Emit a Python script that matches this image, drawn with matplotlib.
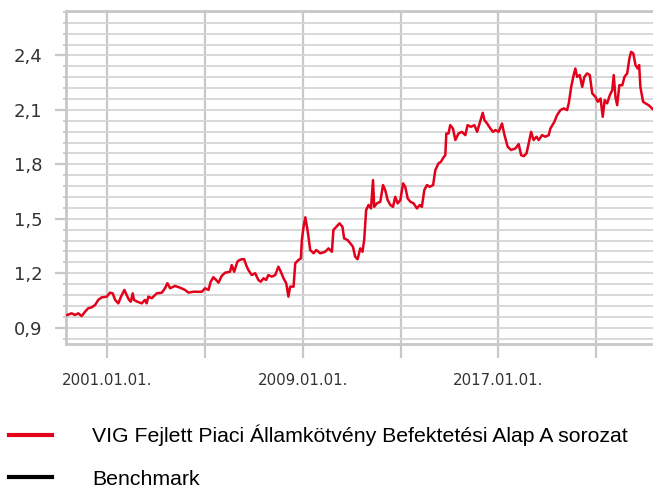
import matplotlib
matplotlib.use("Agg")
import matplotlib.pyplot as plt
from matplotlib.lines import Line2D
import numpy as np

# decimal years and fund values
years = [
    1999.36, 1999.54, 1999.68, 1999.81, 1999.95, 2000.09, 2000.22, 2000.36, 2000.50, 2000.63,
    2000.77, 2000.98, 2001.11, 2001.22, 2001.32, 2001.45, 2001.56, 2001.70, 2001.79, 2001.89,
    2001.96, 2002.04, 2002.09, 2002.23, 2002.41, 2002.54, 2002.61, 2002.68, 2002.82, 2003.02,
    2003.23, 2003.36, 2003.46, 2003.57, 2003.77, 2003.98, 2004.18, 2004.32, 2004.52, 2004.73,
    2004.87, 2005.00, 2005.14, 2005.23, 2005.34, 2005.45, 2005.55, 2005.68, 2005.82, 2006.02,
    2006.09, 2006.19, 2006.32, 2006.41, 2006.50, 2006.60, 2006.68, 2006.77, 2006.91, 2007.05,
    2007.18, 2007.28, 2007.39, 2007.50, 2007.59, 2007.73, 2007.87, 2008.00, 2008.10, 2008.21,
    2008.32, 2008.41, 2008.48, 2008.62, 2008.69, 2008.82, 2008.92, 2008.96, 2009.03, 2009.10,
    2009.17, 2009.23, 2009.30, 2009.44, 2009.55, 2009.71, 2009.91, 2010.05, 2010.19, 2010.25,
    2010.37, 2010.50, 2010.62, 2010.69, 2010.83, 2010.94, 2011.05, 2011.14, 2011.24, 2011.35,
    2011.44, 2011.51, 2011.59, 2011.69, 2011.79, 2011.87, 2011.92, 2012.03, 2012.17, 2012.28,
    2012.37, 2012.47, 2012.58, 2012.69, 2012.78, 2012.88, 2012.99, 2013.10, 2013.19, 2013.29,
    2013.40, 2013.53, 2013.67, 2013.78, 2013.87, 2013.97, 2014.08, 2014.19, 2014.33, 2014.42,
    2014.55, 2014.65, 2014.73, 2014.83, 2014.87, 2014.96, 2015.03, 2015.14, 2015.24, 2015.37,
    2015.51, 2015.65, 2015.74, 2015.88, 2016.02, 2016.13, 2016.23, 2016.36, 2016.43, 2016.54,
    2016.67, 2016.78, 2016.88, 2017.01, 2017.15, 2017.25, 2017.38, 2017.52, 2017.70, 2017.83,
    2017.93, 2018.04, 2018.15, 2018.24, 2018.34, 2018.44, 2018.56, 2018.65, 2018.79, 2018.92,
    2019.06, 2019.13, 2019.29, 2019.40, 2019.54, 2019.67, 2019.81, 2019.88, 2019.98, 2020.08,
    2020.15, 2020.22, 2020.33, 2020.43, 2020.52, 2020.63, 2020.74, 2020.84, 2020.97, 2021.07,
    2021.18, 2021.27, 2021.35, 2021.45, 2021.56, 2021.66, 2021.72, 2021.79, 2021.86, 2021.95,
    2022.07, 2022.16, 2022.27, 2022.36, 2022.43, 2022.52, 2022.61, 2022.70, 2022.76, 2022.81,
    2022.92, 2023.02, 2023.15, 2023.29, 2023.36,
]
fund = [
    0.970, 0.979, 0.970, 0.979, 0.964, 0.988, 1.007, 1.012, 1.025, 1.053,
    1.067, 1.071, 1.093, 1.089, 1.053, 1.034, 1.071, 1.108, 1.080, 1.053,
    1.043, 1.089, 1.053, 1.043, 1.034, 1.053, 1.034, 1.071, 1.062, 1.089,
    1.093, 1.117, 1.145, 1.117, 1.130, 1.120, 1.108, 1.093, 1.098, 1.098,
    1.098, 1.117, 1.108, 1.153, 1.178, 1.163, 1.148, 1.185, 1.203, 1.208,
    1.245, 1.208, 1.263, 1.273, 1.277, 1.277, 1.245, 1.218, 1.190, 1.200,
    1.163, 1.153, 1.172, 1.163, 1.190, 1.181, 1.190, 1.236, 1.208, 1.172,
    1.145, 1.071, 1.126, 1.126, 1.255, 1.273, 1.282, 1.383, 1.456, 1.508,
    1.456, 1.401, 1.328, 1.310, 1.328, 1.310, 1.318, 1.337, 1.318, 1.438,
    1.456, 1.475, 1.456, 1.392, 1.383, 1.365, 1.346, 1.291, 1.277, 1.337,
    1.318, 1.383, 1.548, 1.576, 1.557, 1.713, 1.566, 1.585, 1.594, 1.686,
    1.658, 1.603, 1.576, 1.566, 1.621, 1.585, 1.603, 1.695, 1.676, 1.612,
    1.594, 1.585, 1.557, 1.576, 1.566, 1.658, 1.686, 1.676, 1.686, 1.768,
    1.805, 1.814, 1.833, 1.851, 1.970, 1.970, 2.016, 1.998, 1.934, 1.970,
    1.979, 1.961, 2.016, 2.007, 2.016, 1.979, 2.025, 2.084, 2.044, 2.025,
    1.998, 1.979, 1.989, 1.979, 2.025, 1.961, 1.897, 1.879, 1.888, 1.912,
    1.851, 1.845, 1.860, 1.915, 1.979, 1.934, 1.952, 1.934, 1.961, 1.952,
    1.961, 1.998, 2.034, 2.071, 2.099, 2.108, 2.099, 2.136, 2.227, 2.292,
    2.328, 2.282, 2.292, 2.227, 2.282, 2.301, 2.292, 2.191, 2.172, 2.145,
    2.163, 2.062, 2.154, 2.136, 2.181, 2.209, 2.292, 2.172, 2.126, 2.236,
    2.236, 2.282, 2.301, 2.383, 2.420, 2.411, 2.347, 2.328, 2.347, 2.227,
    2.145, 2.136, 2.126, 2.108, 2.100,
]

xticks = [2001, 2005, 2009, 2013, 2017, 2021]
xlabels = ["2001.01.01.", "", "2009.01.01.", "", "2017.01.01.", ""]
yticks = [0.9, 1.2, 1.5, 1.8, 2.1, 2.4]
ylabels = ["0,9", "1,2", "1,5", "1,8", "2,1", "2,4"]

series_names = ["VIG Fejlett Piaci Államkötvény Befektetési Alap A sorozat", "Benchmark"]

red = "#e2001a"
grid_col = "#d6d6d6"
axis_col = "#c8c8c8"

fig = plt.figure(figsize=(6.53, 4.88), dpi=100)
ax = fig.add_axes([66 / 653, 1 - 344 / 488, 1 - 66 / 653 + 0.002, (344 - 11) / 488])

ax.plot(years, fund, color=red, lw=1.8, zorder=3)

ax.set_xlim(1999.31, 2023.38)
ax.set_ylim(0.81, 2.645)

ax.set_xticks(xticks)
ax.set_xticklabels(xlabels, fontsize=10.8, color="#333333")
ax.set_yticks(yticks)
ax.set_yticklabels(ylabels, fontsize=13, color="#333333")
ax.set_yticks(np.arange(0.84, 2.65, 0.06), minor=True)

ax.grid(True, which="major", axis="x", color=axis_col, lw=1.6)
ax.grid(True, which="both", axis="y", color=grid_col, lw=1.3)
ax.set_axisbelow(True)

ax.tick_params(axis="x", which="major", length=10, width=1.6, color=axis_col, pad=11)
ax.tick_params(axis="y", which="major", length=8, width=1.6, color=axis_col, pad=9)
ax.tick_params(axis="y", which="minor", length=2.5, width=1.3, color=axis_col)

for side in ["left", "bottom", "top"]:
    ax.spines[side].set_color(axis_col)
    ax.spines[side].set_linewidth(2)
ax.spines["right"].set_visible(False)

handles = [Line2D([], [], color=red, lw=3), Line2D([], [], color="black", lw=3)]
fig.legend(handles, series_names, loc="upper left", bbox_to_anchor=(0.0, 1 - 416 / 488),
           frameon=False, prop={"family": "Liberation Sans", "size": 15.3},
           handlelength=2.07, handletextpad=1.88, labelspacing=1.12, borderaxespad=0)

fig.savefig("out.png", dpi=100)
